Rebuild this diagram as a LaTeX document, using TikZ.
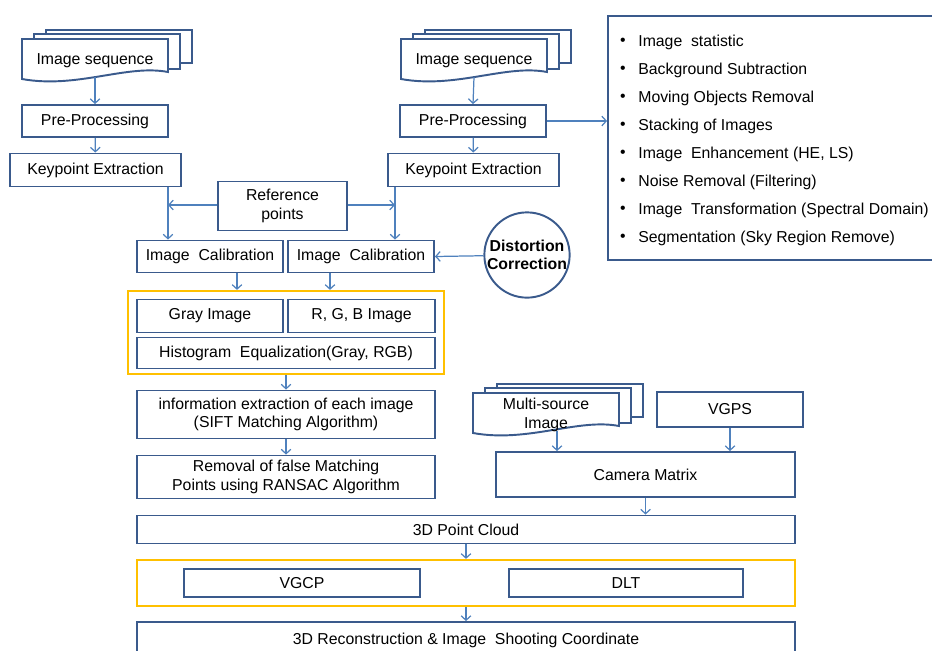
\documentclass[tikz,border=0pt]{standalone}
\usepackage{fontspec}
\setmainfont{Liberation Sans}
\usetikzlibrary{arrows.meta,calc}

\definecolor{boxblue}{RGB}{58,90,140}
\definecolor{arrblue}{RGB}{79,129,189}
\definecolor{frameorange}{RGB}{255,192,0}

\tikzset{
  boxline/.style={draw=boxblue, line width=1.1pt},
  box/.style={boxline, fill=white, inner sep=2pt, align=center,
    font=\fontsize{9}{10.5}\selectfont},
  txt/.style={inner sep=0pt, align=center, font=\fontsize{9}{10.5}\selectfont},
  arr/.style={draw=arrblue, line width=0.7pt, -{Straight Barb[length=2.5pt,width=5.5pt]}},
  frame/.style={draw=frameorange, line width=1.3pt},
}

% stack of pages with a wavy lower edge, #2,#3 = top left corner of the front page
\newcommand{\docstack}[4]{%
  \begin{scope}[shift={(#2,#3)}]
    \draw[boxline, fill=white] (24,-9) rectangle (170,24);
    \draw[boxline, fill=white] (12,-5) rectangle (158,30);
    \draw[boxline, fill=white] (0,0) -- (146,0) -- (146,33)
      .. controls (105,25) and (55,50) .. (0,40) -- cycle;
    \node[txt] (#1) at (73,22) {#4};
    \coordinate (#1-b) at (73,38);
  \end{scope}}

\begin{document}
\begin{tikzpicture}[x=0.02cm, y=-0.02cm]
  \useasboundingbox (0,0) rectangle (932,650);

  % left branch
  \docstack{seqL}{22}{39}{Image sequence}
  \node[box, minimum width=2.92cm, minimum height=0.64cm] (preL) at (95,121) {Pre-Processing};
  \node[box, minimum width=3.42cm, minimum height=0.66cm] (keyL) at (95.5,170) {Keypoint Extraction};

  % right branch
  \docstack{seqR}{401}{39}{Image sequence}
  \node[box, minimum width=2.92cm, minimum height=0.64cm] (preR) at (473,121) {Pre-Processing};
  \node[box, minimum width=3.42cm, minimum height=0.66cm] (keyR) at (473.5,170) {Keypoint Extraction};

  % pre-processing list
  \node[boxline, minimum width=6.52cm, minimum height=4.88cm] (lst) at (771,138) {};
  \foreach \t [count=\i] in {Image\ \ statistic, Background Subtraction, Moving Objects Removal,
      Stacking of Images, {Image\ \ Enhancement (HE, LS)}, Noise Removal (Filtering),
      Image\ \ Transformation (Spectral Domain), Segmentation (Sky Region Remove)} {
    \node[txt] (bul\i) at (623,14+28*\i) {•};
    \node[txt, anchor=west] (item\i) at (638,14+28*\i) {\t};
  }

  \node[box, minimum width=2.58cm, minimum height=0.98cm] (refp) at (282.5,206) {Reference\\points};
  \node[box, minimum width=2.92cm, minimum height=0.64cm] (calL) at (210,256.5) {Image\ \ Calibration};
  \node[box, minimum width=2.92cm, minimum height=0.64cm] (calR) at (361,256.5) {Image\ \ Calibration};
  \node[box, circle, minimum size=1.66cm, inner sep=0pt, font=\fontsize{9}{10.5}\selectfont\bfseries]
    (dist) at (527,255) {Distortion\\Correction};

  % colour channels
  \node[frame, minimum width=6.32cm, minimum height=1.66cm] (grp1) at (286,332.5) {};
  \node[box, minimum width=2.92cm, minimum height=0.66cm] (gray) at (210,316) {Gray Image};
  \node[box, minimum width=2.94cm, minimum height=0.66cm] (rgb) at (361.5,316) {R, G, B Image};
  \node[box, minimum width=5.96cm, minimum height=0.62cm] (hist) at (286,353) {Histogram\ \ Equalization(Gray, RGB)};

  \node[box, minimum width=5.96cm, minimum height=0.96cm] (info) at (286,414.5)
    {information extraction of each image\\(SIFT Matching Algorithm)};
  \node[box, minimum width=5.96cm, minimum height=0.86cm] (rmv) at (286,477)
    {Removal of false Matching\\Points using RANSAC Algorithm};

  \docstack{mult}{473}{393}{Multi-source\\Image}
  \node[box, minimum width=2.92cm, minimum height=0.70cm] (vgps) at (730,409.5) {VGPS};
  \node[box, minimum width=5.98cm, minimum height=0.90cm] (cam) at (645.5,474.5) {Camera Matrix};

  \node[box, minimum width=13.16cm, minimum height=0.56cm] (cloud) at (466,529.5) {3D Point Cloud};
  \node[frame, minimum width=13.16cm, minimum height=0.92cm] (grp2) at (466,583) {};
  \node[box, minimum width=4.72cm, minimum height=0.56cm] (vgcp) at (302,583) {VGCP};
  \node[box, minimum width=4.68cm, minimum height=0.56cm] (dlt) at (626,583) {DLT};
  \node[box, minimum width=13.16cm, minimum height=0.72cm] (recon) at (466,640)
    {3D Reconstruction \& Image\ \ Shooting Coordinate};

  % connectors
  \coordinate (jL) at (168,205);
  \coordinate (jR) at (395,205);
  \coordinate (aL) at ($(calL.south)+(27,0)$);
  \coordinate (aR) at ($(calR.south)+(-31,0)$);
  \coordinate (aM) at ($(mult-b)+(11,0)$);

  \draw[arr] (seqL-b) -- (preL.north);
  \draw[arr] (preL) -- (keyL);
  \draw[arr] (seqR-b) -- (preR.north);
  \draw[arr] (preR) -- (keyR);
  \draw[arr] (preR.east) -- (preR.east -| lst.west);
  \draw[arr] (keyL.south -| jL) -- (calL.north -| jL);
  \draw[arr] (keyR.south -| jR) -- (calR.north -| jR);
  \draw[arr] (refp.west |- jL) -- (jL);
  \draw[arr] (refp.east |- jR) -- (jR);
  \draw[arr] (dist) -- (calR.east);
  \draw[arr] (aL) -- (aL |- grp1.north);
  \draw[arr] (aR) -- (aR |- grp1.north);
  \draw[arr] (grp1) -- (info);
  \draw[arr] (info) -- (rmv);
  \draw[arr] (aM) -- (aM |- cam.north);
  \draw[arr] (vgps) -- (vgps.south |- cam.north);
  \draw[arr] (cam) -- (cam.south |- cloud.north);
  \draw[arr] (cloud) -- (grp2);
  \draw[arr] (grp2) -- (recon);
\end{tikzpicture}
\end{document}
